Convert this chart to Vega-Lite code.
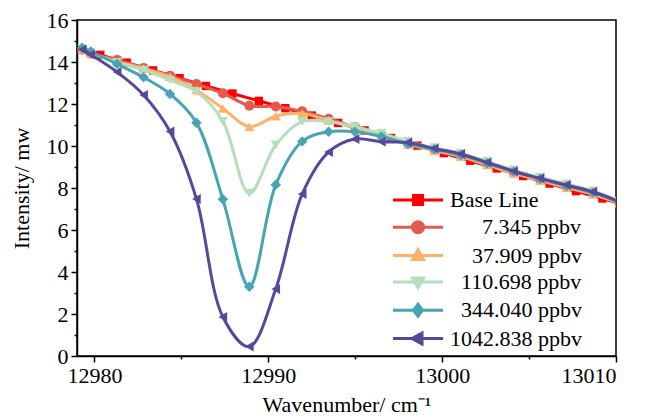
{
  "$schema": "https://vega.github.io/schema/vega-lite/v6.json",
  "width": 539,
  "height": 336,
  "autosize": {"type": "none"},
  "padding": {"left": 77, "top": 20, "right": 35, "bottom": 62},
  "background": "white",
  "config": {
    "view": {"stroke": "black", "strokeWidth": 1.5},
    "font": "Liberation Serif",
    "axis": {
      "labelFont": "Liberation Serif", "labelFontSize": 22, "labelColor": "black",
      "titleFont": "Liberation Serif", "titleFontSize": 22, "titleFontWeight": "normal", "titleColor": "black",
      "domainColor": "black", "domainWidth": 1.5, "tickColor": "black", "tickWidth": 1.5, "grid": false
    }
  },
  "datasets": {
    "spec": [
      {"s": "Base Line", "x": 12979.3, "y": 14.6},
      {"s": "Base Line", "x": 12980.34, "y": 14.34},
      {"s": "Base Line", "x": 12981.86, "y": 13.97},
      {"s": "Base Line", "x": 12983.38, "y": 13.6},
      {"s": "Base Line", "x": 12984.9, "y": 13.23},
      {"s": "Base Line", "x": 12986.42, "y": 12.86},
      {"s": "Base Line", "x": 12987.94, "y": 12.5},
      {"s": "Base Line", "x": 12989.46, "y": 12.15},
      {"s": "Base Line", "x": 12990.98, "y": 11.8},
      {"s": "Base Line", "x": 12992.5, "y": 11.45},
      {"s": "Base Line", "x": 12994.02, "y": 11.1},
      {"s": "Base Line", "x": 12995.54, "y": 10.74},
      {"s": "Base Line", "x": 12997.06, "y": 10.38},
      {"s": "Base Line", "x": 12998.58, "y": 10.02},
      {"s": "Base Line", "x": 13000.1, "y": 9.66},
      {"s": "Base Line", "x": 13001.62, "y": 9.3},
      {"s": "Base Line", "x": 13003.14, "y": 8.93},
      {"s": "Base Line", "x": 13004.66, "y": 8.57},
      {"s": "Base Line", "x": 13006.18, "y": 8.21},
      {"s": "Base Line", "x": 13007.7, "y": 7.85},
      {"s": "Base Line", "x": 13009.22, "y": 7.5},
      {"s": "Base Line", "x": 13010.74, "y": 7.13},

      {"s": "7.345 ppbv", "x": 12979.3, "y": 14.58},
      {"s": "7.345 ppbv", "x": 12979.79, "y": 14.4},
      {"s": "7.345 ppbv", "x": 12981.31, "y": 14.1},
      {"s": "7.345 ppbv", "x": 12982.83, "y": 13.72},
      {"s": "7.345 ppbv", "x": 12984.35, "y": 13.35},
      {"s": "7.345 ppbv", "x": 12985.87, "y": 12.95},
      {"s": "7.345 ppbv", "x": 12987.39, "y": 12.51},
      {"s": "7.345 ppbv", "x": 12988.91, "y": 11.92},
      {"s": "7.345 ppbv", "x": 12990.43, "y": 11.88},
      {"s": "7.345 ppbv", "x": 12991.95, "y": 11.65},
      {"s": "7.345 ppbv", "x": 12993.47, "y": 11.3},
      {"s": "7.345 ppbv", "x": 12994.99, "y": 10.9},
      {"s": "7.345 ppbv", "x": 12996.51, "y": 10.52},
      {"s": "7.345 ppbv", "x": 12998.03, "y": 10.12},
      {"s": "7.345 ppbv", "x": 12999.55, "y": 9.82},
      {"s": "7.345 ppbv", "x": 13001.07, "y": 9.55},
      {"s": "7.345 ppbv", "x": 13002.59, "y": 9.15},
      {"s": "7.345 ppbv", "x": 13004.11, "y": 8.74},
      {"s": "7.345 ppbv", "x": 13005.63, "y": 8.4},
      {"s": "7.345 ppbv", "x": 13007.15, "y": 8.08},
      {"s": "7.345 ppbv", "x": 13008.67, "y": 7.75},
      {"s": "7.345 ppbv", "x": 13010.19, "y": 7.3},

      {"s": "37.909 ppbv", "x": 12979.3, "y": 14.6},
      {"s": "37.909 ppbv", "x": 12979.79, "y": 14.42},
      {"s": "37.909 ppbv", "x": 12981.31, "y": 14.02},
      {"s": "37.909 ppbv", "x": 12982.83, "y": 13.7},
      {"s": "37.909 ppbv", "x": 12984.35, "y": 13.3},
      {"s": "37.909 ppbv", "x": 12985.87, "y": 12.67},
      {"s": "37.909 ppbv", "x": 12987.39, "y": 11.79},
      {"s": "37.909 ppbv", "x": 12988.91, "y": 10.92},
      {"s": "37.909 ppbv", "x": 12990.43, "y": 11.42},
      {"s": "37.909 ppbv", "x": 12991.95, "y": 11.55},
      {"s": "37.909 ppbv", "x": 12993.47, "y": 11.22},
      {"s": "37.909 ppbv", "x": 12994.99, "y": 10.85},
      {"s": "37.909 ppbv", "x": 12996.51, "y": 10.5},
      {"s": "37.909 ppbv", "x": 12998.03, "y": 10.08},
      {"s": "37.909 ppbv", "x": 12999.55, "y": 9.78},
      {"s": "37.909 ppbv", "x": 13001.07, "y": 9.5},
      {"s": "37.909 ppbv", "x": 13002.59, "y": 9.1},
      {"s": "37.909 ppbv", "x": 13004.11, "y": 8.7},
      {"s": "37.909 ppbv", "x": 13005.63, "y": 8.36},
      {"s": "37.909 ppbv", "x": 13007.15, "y": 8.02},
      {"s": "37.909 ppbv", "x": 13008.67, "y": 7.7},
      {"s": "37.909 ppbv", "x": 13010.19, "y": 7.28},

      {"s": "110.698 ppbv", "x": 12979.3, "y": 14.62},
      {"s": "110.698 ppbv", "x": 12979.79, "y": 14.45},
      {"s": "110.698 ppbv", "x": 12981.31, "y": 13.98},
      {"s": "110.698 ppbv", "x": 12982.83, "y": 13.62},
      {"s": "110.698 ppbv", "x": 12984.35, "y": 13.14},
      {"s": "110.698 ppbv", "x": 12985.87, "y": 12.59},
      {"s": "110.698 ppbv", "x": 12987.39, "y": 11.18},
      {"s": "110.698 ppbv", "x": 12988.91, "y": 7.75},
      {"s": "110.698 ppbv", "x": 12990.43, "y": 10.05},
      {"s": "110.698 ppbv", "x": 12991.95, "y": 11.16},
      {"s": "110.698 ppbv", "x": 12993.47, "y": 11.16},
      {"s": "110.698 ppbv", "x": 12994.99, "y": 10.92},
      {"s": "110.698 ppbv", "x": 12996.51, "y": 10.6},
      {"s": "110.698 ppbv", "x": 12998.03, "y": 10.22},
      {"s": "110.698 ppbv", "x": 12999.55, "y": 9.92},
      {"s": "110.698 ppbv", "x": 13001.07, "y": 9.65},
      {"s": "110.698 ppbv", "x": 13002.59, "y": 9.27},
      {"s": "110.698 ppbv", "x": 13004.11, "y": 8.86},
      {"s": "110.698 ppbv", "x": 13005.63, "y": 8.51},
      {"s": "110.698 ppbv", "x": 13007.15, "y": 8.2},
      {"s": "110.698 ppbv", "x": 13008.67, "y": 7.86},
      {"s": "110.698 ppbv", "x": 13010.19, "y": 7.38},

      {"s": "344.040 ppbv", "x": 12979.3, "y": 14.68},
      {"s": "344.040 ppbv", "x": 12979.79, "y": 14.5},
      {"s": "344.040 ppbv", "x": 12981.31, "y": 13.9},
      {"s": "344.040 ppbv", "x": 12982.83, "y": 13.27},
      {"s": "344.040 ppbv", "x": 12984.35, "y": 12.48},
      {"s": "344.040 ppbv", "x": 12985.87, "y": 11.11},
      {"s": "344.040 ppbv", "x": 12987.39, "y": 7.46},
      {"s": "344.040 ppbv", "x": 12988.91, "y": 3.3},
      {"s": "344.040 ppbv", "x": 12990.43, "y": 8.15},
      {"s": "344.040 ppbv", "x": 12991.95, "y": 10.22},
      {"s": "344.040 ppbv", "x": 12993.47, "y": 10.68},
      {"s": "344.040 ppbv", "x": 12994.99, "y": 10.68},
      {"s": "344.040 ppbv", "x": 12996.51, "y": 10.45},
      {"s": "344.040 ppbv", "x": 12998.03, "y": 10.1},
      {"s": "344.040 ppbv", "x": 12999.55, "y": 9.84},
      {"s": "344.040 ppbv", "x": 13001.07, "y": 9.57},
      {"s": "344.040 ppbv", "x": 13002.59, "y": 9.18},
      {"s": "344.040 ppbv", "x": 13004.11, "y": 8.78},
      {"s": "344.040 ppbv", "x": 13005.63, "y": 8.43},
      {"s": "344.040 ppbv", "x": 13007.15, "y": 8.1},
      {"s": "344.040 ppbv", "x": 13008.67, "y": 7.78},
      {"s": "344.040 ppbv", "x": 13010.19, "y": 7.32},

      {"s": "1042.838 ppbv", "x": 12979.3, "y": 14.6},
      {"s": "1042.838 ppbv", "x": 12979.79, "y": 14.35},
      {"s": "1042.838 ppbv", "x": 12981.31, "y": 13.52},
      {"s": "1042.838 ppbv", "x": 12982.83, "y": 12.43},
      {"s": "1042.838 ppbv", "x": 12984.35, "y": 10.69},
      {"s": "1042.838 ppbv", "x": 12985.87, "y": 7.48},
      {"s": "1042.838 ppbv", "x": 12987.39, "y": 1.86},
      {"s": "1042.838 ppbv", "x": 12988.91, "y": 0.45},
      {"s": "1042.838 ppbv", "x": 12990.43, "y": 3.19},
      {"s": "1042.838 ppbv", "x": 12991.95, "y": 7.71},
      {"s": "1042.838 ppbv", "x": 12993.47, "y": 9.71},
      {"s": "1042.838 ppbv", "x": 12994.99, "y": 10.33},
      {"s": "1042.838 ppbv", "x": 12996.51, "y": 10.2},
      {"s": "1042.838 ppbv", "x": 12998.03, "y": 10.17},
      {"s": "1042.838 ppbv", "x": 12999.55, "y": 9.88},
      {"s": "1042.838 ppbv", "x": 13001.07, "y": 9.62},
      {"s": "1042.838 ppbv", "x": 13002.59, "y": 9.22},
      {"s": "1042.838 ppbv", "x": 13004.11, "y": 8.8},
      {"s": "1042.838 ppbv", "x": 13005.63, "y": 8.46},
      {"s": "1042.838 ppbv", "x": 13007.15, "y": 8.14},
      {"s": "1042.838 ppbv", "x": 13008.67, "y": 7.82},
      {"s": "1042.838 ppbv", "x": 13010.19, "y": 7.35}
    ]
  },
  "data": {"name": "spec"},
  "resolve": {"axis": {"x": "independent", "y": "independent"}},
  "layer": [
    {
      "transform": [{"filter": "datum.s === 'Base Line'"}],
      "mark": {"type": "line", "interpolate": "catmull-rom", "strokeWidth": 3, "clip": true},
      "encoding": {
        "x": {"field": "x", "type": "quantitative", "scale": {"domain": [12979, 13010], "nice": false, "zero": false},
              "axis": {"values": [12980, 12990, 13000, 13010], "format": "d", "tickSize": 6, "labelPadding": 3, "title": "Wavenumber/ cm⁻¹", "titlePadding": 8, "orient": "bottom"}},
        "y": {"field": "y", "type": "quantitative", "scale": {"domain": [0, 16], "nice": false, "zero": false},
              "axis": {"values": [0, 2, 4, 6, 8, 10, 12, 14, 16], "tickSize": 6, "labelPadding": 3, "title": "Intensity/ mw", "titlePadding": 13, "orient": "left"}},
        "color": {
          "field": "s", "type": "nominal",
          "scale": {
            "domain": ["Base Line", "7.345 ppbv", "37.909 ppbv", "110.698 ppbv", "344.040 ppbv", "1042.838 ppbv"],
            "range": ["#FF0000", "#E45A4C", "#FDB26B", "#B5DEBA", "#46A5B3", "#56499C"]
          },
          "legend": {
            "title": null,
            "orient": "none",
            "legendX": 330,
            "legendY": 169,
            "padding": 0,
            "labelFont": "Liberation Serif",
            "labelFontSize": 22,
            "labelColor": "black",
            "labelOffset": 21,
            "symbolSize": 100,
            "symbolStrokeWidth": 3,
            "rowPadding": 4.3,
            "labelLimit": 300,
            "encode": {
              "labels": {
                "update": {
                  "dx": {"signal": "datum.value == '7.345 ppbv' ? 32 : datum.value == '37.909 ppbv' ? 22 : (datum.value == '110.698 ppbv' || datum.value == '344.040 ppbv') ? 11 : 0"}
                }
              },
              "symbols": {
                "update": {
                  "shape": {"signal": "datum.value == 'Base Line' ? 'M-5,0H5M-0.9,-0.9H0.9V0.9H-0.9Z' : datum.value == '7.345 ppbv' ? 'M-5,0H5M-1.1,0A1.1,1.1,0,1,1,1.1,0A1.1,1.1,0,1,1,-1.1,0Z' : datum.value == '37.909 ppbv' ? 'M-5,0H5M0,-1.2L1.1,0.8H-1.1Z' : datum.value == '110.698 ppbv' ? 'M-5,0H5M0,1.2L1.1,-0.8H-1.1Z' : datum.value == '344.040 ppbv' ? 'M-5,0H5M0,-1.2L0.9,0L0,1.2L-0.9,0Z' : 'M-5,0H5M-1.2,0L0.8,-1.1V1.1Z'"},
                  "fill": {"scale": "color", "field": "value"},
                  "stroke": {"scale": "color", "field": "value"},
                  "strokeWidth": {"value": 3},
                  "size": {"value": 100},
                  "opacity": {"value": 1}
                }
              }
            }
          }
        }
      }
    },
    {
      "transform": [{"filter": "datum.s === 'Base Line'"}],
      "mark": {"type": "point", "shape": "square", "filled": true, "color": "#FF0000", "size": 70, "opacity": 1, "clip": true},
      "encoding": {
        "x": {"field": "x", "type": "quantitative", "scale": {"domain": [12979, 13010], "nice": false, "zero": false},
              "axis": {"values": [12985, 12995, 13005], "labels": false, "domain": false, "tickSize": 3, "title": null, "orient": "bottom"}},
        "y": {"field": "y", "type": "quantitative", "scale": {"domain": [0, 16], "nice": false, "zero": false},
              "axis": {"values": [1, 3, 5, 7, 9, 11, 13, 15], "labels": false, "domain": false, "tickSize": 3, "title": null, "orient": "left"}}
      }
    },
    {
      "transform": [{"filter": "datum.s === '7.345 ppbv'"}],
      "mark": {"type": "line", "interpolate": "catmull-rom", "strokeWidth": 3, "clip": true},
      "encoding": {
        "x": {"field": "x", "type": "quantitative", "axis": null},
        "y": {"field": "y", "type": "quantitative", "axis": null},
        "color": {"field": "s", "type": "nominal", "scale": {"domain": ["Base Line", "7.345 ppbv", "37.909 ppbv", "110.698 ppbv", "344.040 ppbv", "1042.838 ppbv"], "range": ["#FF0000", "#E45A4C", "#FDB26B", "#B5DEBA", "#46A5B3", "#56499C"]}}
      }
    },
    {
      "transform": [{"filter": "datum.s === '7.345 ppbv'"}],
      "mark": {"type": "point", "shape": "circle", "filled": true, "color": "#E45A4C", "size": 100, "opacity": 1, "clip": true},
      "encoding": {
        "x": {"field": "x", "type": "quantitative", "axis": null},
        "y": {"field": "y", "type": "quantitative", "axis": null}
      }
    },
    {
      "transform": [{"filter": "datum.s === '37.909 ppbv'"}],
      "mark": {"type": "line", "interpolate": "catmull-rom", "strokeWidth": 3, "clip": true},
      "encoding": {
        "x": {"field": "x", "type": "quantitative", "axis": null},
        "y": {"field": "y", "type": "quantitative", "axis": null},
        "color": {"field": "s", "type": "nominal", "scale": {"domain": ["Base Line", "7.345 ppbv", "37.909 ppbv", "110.698 ppbv", "344.040 ppbv", "1042.838 ppbv"], "range": ["#FF0000", "#E45A4C", "#FDB26B", "#B5DEBA", "#46A5B3", "#56499C"]}}
      }
    },
    {
      "transform": [{"filter": "datum.s === '37.909 ppbv'"}],
      "mark": {"type": "point", "shape": "triangle-up", "filled": true, "color": "#FDB26B", "size": 100, "opacity": 1, "clip": true},
      "encoding": {
        "x": {"field": "x", "type": "quantitative", "axis": null},
        "y": {"field": "y", "type": "quantitative", "axis": null}
      }
    },
    {
      "transform": [{"filter": "datum.s === '110.698 ppbv'"}],
      "mark": {"type": "line", "interpolate": "catmull-rom", "strokeWidth": 3, "clip": true},
      "encoding": {
        "x": {"field": "x", "type": "quantitative", "axis": null},
        "y": {"field": "y", "type": "quantitative", "axis": null},
        "color": {"field": "s", "type": "nominal", "scale": {"domain": ["Base Line", "7.345 ppbv", "37.909 ppbv", "110.698 ppbv", "344.040 ppbv", "1042.838 ppbv"], "range": ["#FF0000", "#E45A4C", "#FDB26B", "#B5DEBA", "#46A5B3", "#56499C"]}}
      }
    },
    {
      "transform": [{"filter": "datum.s === '110.698 ppbv'"}],
      "mark": {"type": "point", "shape": "triangle-down", "filled": true, "color": "#B5DEBA", "size": 100, "opacity": 1, "clip": true},
      "encoding": {
        "x": {"field": "x", "type": "quantitative", "axis": null},
        "y": {"field": "y", "type": "quantitative", "axis": null}
      }
    },
    {
      "transform": [{"filter": "datum.s === '344.040 ppbv'"}],
      "mark": {"type": "line", "interpolate": "catmull-rom", "strokeWidth": 3, "clip": true},
      "encoding": {
        "x": {"field": "x", "type": "quantitative", "axis": null},
        "y": {"field": "y", "type": "quantitative", "axis": null},
        "color": {"field": "s", "type": "nominal", "scale": {"domain": ["Base Line", "7.345 ppbv", "37.909 ppbv", "110.698 ppbv", "344.040 ppbv", "1042.838 ppbv"], "range": ["#FF0000", "#E45A4C", "#FDB26B", "#B5DEBA", "#46A5B3", "#56499C"]}}
      }
    },
    {
      "transform": [{"filter": "datum.s === '344.040 ppbv'"}],
      "mark": {"type": "point", "shape": "diamond", "filled": true, "color": "#46A5B3", "size": 110, "opacity": 1, "clip": true},
      "encoding": {
        "x": {"field": "x", "type": "quantitative", "axis": null},
        "y": {"field": "y", "type": "quantitative", "axis": null}
      }
    },
    {
      "transform": [{"filter": "datum.s === '1042.838 ppbv'"}],
      "mark": {"type": "line", "interpolate": "catmull-rom", "strokeWidth": 3, "clip": true},
      "encoding": {
        "x": {"field": "x", "type": "quantitative", "axis": null},
        "y": {"field": "y", "type": "quantitative", "axis": null},
        "color": {"field": "s", "type": "nominal", "scale": {"domain": ["Base Line", "7.345 ppbv", "37.909 ppbv", "110.698 ppbv", "344.040 ppbv", "1042.838 ppbv"], "range": ["#FF0000", "#E45A4C", "#FDB26B", "#B5DEBA", "#46A5B3", "#56499C"]}}
      }
    },
    {
      "transform": [{"filter": "datum.s === '1042.838 ppbv'"}],
      "mark": {"type": "point", "shape": "triangle-left", "filled": true, "color": "#56499C", "size": 100, "opacity": 1, "clip": true},
      "encoding": {
        "x": {"field": "x", "type": "quantitative", "axis": null},
        "y": {"field": "y", "type": "quantitative", "axis": null}
      }
    }
  ]
}
